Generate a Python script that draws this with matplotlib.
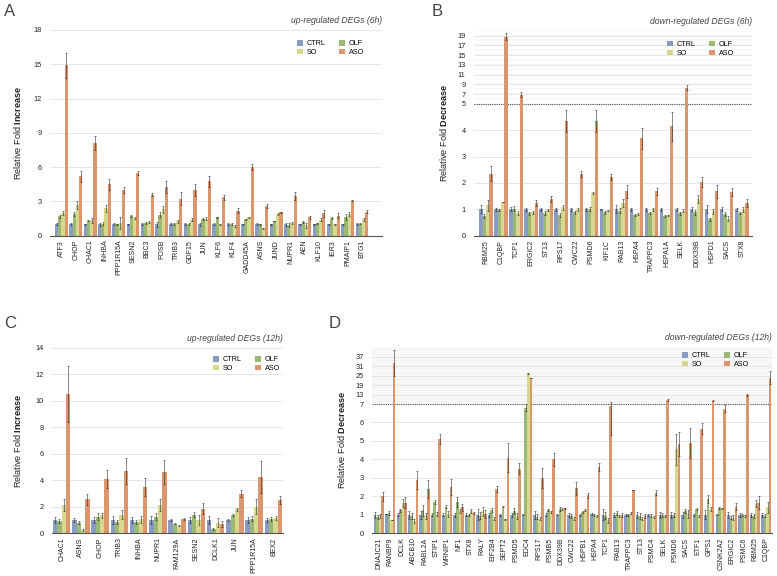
import numpy as np
import matplotlib
matplotlib.use("Agg")
import matplotlib.pyplot as plt

plt.rcParams['font.family'] = ['Liberation Sans', 'DejaVu Sans']
plt.rcParams['mathtext.fontset'] = 'custom'
plt.rcParams['mathtext.rm'] = 'Liberation Sans'
plt.rcParams['mathtext.bf'] = 'Liberation Sans:bold'

# ---------------- data ----------------
series_names = ["CTRL", "OLF", "SO", "ASO"]
colors = ["#8A9CC0", "#9BB874", "#D8D78E", "#DC966D"]

# A: up-regulated DEGs (6h)
genes_a = ["ATF3", "CHOP", "CHAC1", "INHBA", "PPP1R15A", "SESN2", "BBC3", "FOSB", "TRIB3", "GDF15", "JUN",
           "KLF6", "KLF4", "GADD45A", "ASNS", "JUND", "NUPR1", "AEN", "KLF10", "IER3", "PMAIP1", "BTG1"]
a_ctrl = [1.0, 1.0, 1.0, 1.0, 1.0, 1.0, 1.0, 1.0, 1.0, 1.0, 1.0, 1.0, 1.0, 1.0, 1.0, 1.0, 1.0, 1.0, 1.0, 1.0, 1.0, 1.0]
a_ctrl_err = [0.1, 0.1, 0.05, 0.12, 0.1, 0.05, 0.1, 0.2, 0.08, 0.1, 0.12, 0.08, 0.08, 0.05, 0.08, 0.05, 0.12, 0.05, 0.05, 0.05, 0.05, 0.1]
a_olf = [1.7, 1.9, 1.3, 1.05, 1.0, 1.7, 1.1, 1.85, 1.0, 1.05, 1.45, 1.6, 1.0, 1.45, 1.0, 1.3, 0.95, 1.2, 1.1, 1.55, 1.65, 1.05]
a_olf_err = [0.12, 0.15, 0.05, 0.12, 0.05, 0.08, 0.08, 0.2, 0.08, 0.08, 0.1, 0.08, 0.08, 0.05, 0.05, 0.03, 0.15, 0.08, 0.05, 0.05, 0.25, 0.05]
a_so = [2.0, 2.7, 1.35, 2.4, 1.1, 1.55, 1.2, 2.3, 1.25, 1.4, 1.5, 1.0, 0.85, 1.6, 0.65, 1.9, 1.1, 0.9, 1.4, 1.0, 1.9, 1.45]
a_so_err = [0.2, 0.35, 0.2, 0.3, 0.5, 0.08, 0.05, 0.3, 0.15, 0.15, 0.12, 0.05, 0.1, 0.05, 0.03, 0.08, 0.1, 0.2, 0.15, 0.05, 0.2, 0.12]
a_aso = [14.9, 5.2, 8.1, 4.5, 4.0, 5.5, 3.6, 4.25, 3.25, 4.0, 4.75, 3.35, 2.2, 6.0, 2.6, 2.05, 3.45, 1.6, 1.95, 1.75, 3.05, 2.1]
a_aso_err = [1.1, 0.5, 0.6, 0.5, 0.3, 0.2, 0.15, 0.5, 0.55, 0.5, 0.45, 0.2, 0.25, 0.25, 0.15, 0.03, 0.35, 0.15, 0.3, 0.2, 0.05, 0.15]

# B: down-regulated DEGs (6h)
genes_b = ["RBM25", "C1QBP", "TCP1", "ERGIC2", "ST13", "RPS17", "CWC22", "PSMD6", "KIF1C", "RAB13", "HSPA4",
           "TRAPPC3", "HSPA1A", "SELK", "DDX39B", "HSPD1", "SACS", "STX8"]
b_ctrl = [1.0, 1.0, 1.0, 1.0, 1.0, 1.0, 1.0, 1.0, 1.0, 1.0, 1.0, 1.0, 1.0, 1.0, 1.0, 1.0, 1.0, 1.0]
b_ctrl_err = [0.15, 0.05, 0.08, 0.05, 0.05, 0.05, 0.05, 0.05, 0.02, 0.15, 0.05, 0.05, 0.05, 0.05, 0.08, 0.15, 0.08, 0.05]
b_olf = [0.75, 0.97, 1.02, 0.85, 0.85, 0.78, 0.88, 1.02, 0.88, 0.95, 0.78, 0.85, 0.75, 0.85, 0.88, 0.62, 0.82, 0.85]
b_olf_err = [0.08, 0.05, 0.1, 0.05, 0.07, 0.07, 0.05, 0.07, 0.05, 0.1, 0.04, 0.04, 0.04, 0.05, 0.1, 0.05, 0.08, 0.03]
b_so = [1.15, 1.28, 0.87, 0.88, 0.97, 1.08, 1.0, 1.62, 0.95, 1.25, 0.82, 1.0, 0.78, 0.95, 1.4, 0.93, 0.65, 1.0]
b_so_err = [0.2, 0.01, 0.08, 0.05, 0.05, 0.1, 0.05, 0.05, 0.03, 0.15, 0.04, 0.05, 0.02, 0.05, 0.15, 0.1, 0.08, 0.1]
b_aso = [2.35, 18.8, 6.85, 1.25, 1.38, 4.35, 2.35, 4.35, 2.22, 1.68, 3.7, 1.68, 4.15, 8.3, 2.03, 1.68, 1.67, 1.25]
b_aso_err = [0.28, 0.7, 0.5, 0.12, 0.12, 0.4, 0.12, 0.4, 0.12, 0.25, 0.4, 0.12, 0.55, 0.5, 0.2, 0.25, 0.15, 0.15]

# C: up-regulated DEGs (12h)
genes_c = ["CHAC1", "ASNS", "CHOP", "TRIB3", "INHBA", "NUPR1", "FAM129A", "SESN2", "DCLK1", "JUN", "PPP1R15A", "BEX2"]
c_ctrl = [1.0, 1.0, 1.0, 1.0, 1.0, 1.0, 1.0, 1.0, 1.0, 1.0, 1.0, 1.0]
c_ctrl_err = [0.25, 0.15, 0.2, 0.3, 0.2, 0.3, 0.1, 0.2, 0.3, 0.05, 0.25, 0.15]
c_olf = [0.9, 0.8, 1.25, 0.85, 0.85, 1.25, 0.72, 1.4, 0.35, 1.4, 1.1, 1.1]
c_olf_err = [0.15, 0.1, 0.25, 0.15, 0.15, 0.25, 0.05, 0.2, 0.08, 0.08, 0.2, 0.15]
c_so = [2.15, 0.25, 1.35, 1.4, 1.05, 2.15, 0.58, 1.0, 0.8, 1.8, 2.0, 1.15]
c_so_err = [0.45, 0.05, 0.2, 0.35, 0.25, 0.45, 0.03, 0.4, 0.35, 0.12, 0.55, 0.15]
c_aso = [10.5, 2.55, 4.1, 4.7, 3.5, 4.65, 1.1, 1.85, 0.7, 3.0, 4.25, 2.5]
c_aso_err = [2.1, 0.4, 0.65, 1.0, 0.65, 0.9, 0.08, 0.4, 0.25, 0.25, 1.2, 0.3]

# D: down-regulated DEGs (12h)
genes_d = ["DNAJC21", "RANBP9", "DCLK", "ABCB10", "RABL2A", "STIP1", "WRNIP1", "NF1", "STX8", "RALY", "EIF2B4",
           "SEPT2", "PSMD5", "EDC4", "RPS17", "PSMB5", "DDX39B", "CWC22", "HSPB1", "HSPA4", "TCP1", "RAB13",
           "TRAPPC3", "ST13", "PSMC4", "SELK", "PSMD6", "SACS", "ETF1", "GPS1", "CSNK2A2", "ERGIC2", "PSMC6",
           "RBM25", "C1QBP"]
d_ctrl = [1.0, 1.05, 1.0, 1.0, 1.0, 1.0, 1.0, 1.0, 1.0, 1.0, 1.0, 1.0, 1.0, 1.0, 1.0, 1.0, 1.0, 1.0, 1.0, 1.05,
          1.0, 1.0, 1.0, 1.0, 1.0, 1.0, 1.0, 1.0, 1.0, 1.0, 1.0, 1.0, 1.0, 1.0, 1.0]
d_ctrl_err = [0.15, 0.02, 0.08, 0.2, 0.2, 0.08, 0.08, 0.1, 0.08, 0.3, 0.1, 0.05, 0.1, 0.03, 0.2, 0.08, 0.02, 0.1,
              0.05, 0.05, 0.3, 0.1, 0.05, 0.15, 0.05, 0.15, 0.15, 0.15, 0.05, 0.25, 0.03, 0.15, 0.1, 0.1, 0.1]
d_olf = [0.9, 1.1, 1.25, 0.95, 1.25, 1.7, 1.45, 1.7, 1.0, 0.95, 1.25, 1.45, 1.2, 6.8, 0.9, 1.25, 1.3, 0.95, 1.15,
         1.0, 0.95, 1.1, 1.0, 0.95, 0.95, 1.0, 1.0, 1.2, 1.3, 1.85, 1.35, 0.85, 1.0, 0.95, 0.95]
d_olf_err = [0.1, 0.1, 0.08, 0.15, 0.3, 0.1, 0.1, 0.25, 0.05, 0.2, 0.1, 0.05, 0.15, 0.2, 0.15, 0.05, 0.1, 0.1, 0.05,
             0.05, 0.2, 0.1, 0.05, 0.15, 0.08, 0.1, 0.1, 0.1, 0.05, 0.2, 0.05, 0.1, 0.05, 0.1, 0.08]
d_so = [0.95, 0.72, 1.65, 0.65, 0.95, 1.05, 1.05, 1.2, 1.2, 1.2, 0.8, 0.75, 0.95, 26.5, 0.8, 1.15, 1.3, 0.8, 1.25,
        0.95, 0.7, 0.95, 1.1, 0.8, 0.9, 0.95, 4.55, 1.05, 0.95, 1.3, 1.35, 0.85, 0.95, 1.6, 1.4]
d_so_err = [0.1, 0.02, 0.2, 0.1, 0.15, 0.1, 0.15, 0.1, 0.1, 0.25, 0.08, 0.02, 0.15, 0.3, 0.1, 0.05, 0.05, 0.08, 0.05,
            0.05, 0.15, 0.05, 0.03, 0.1, 0.05, 0.05, 0.85, 0.2, 0.05, 0.1, 0.03, 0.15, 0.05, 0.2, 0.3]
d_aso = [2.0, 33.0, 1.65, 2.9, 2.4, 5.1, 2.5, 1.4, 1.1, 1.05, 2.4, 4.1, 3.5, 23.5, 3.0, 4.0, 1.35, 2.45, 2.05, 3.6,
         6.9, 1.0, 2.35, 0.95, 2.2, 9.5, 4.85, 4.9, 5.65, 9.2, 6.75, 1.45, 12.7, 1.65, 23.7]
d_aso_err = [0.25, 8.0, 0.3, 0.5, 0.5, 0.25, 0.45, 0.2, 0.03, 0.2, 0.15, 0.8, 0.3, 0.3, 0.55, 0.35, 0.03, 0.35, 0.15,
             0.2, 1.6, 0.1, 0.02, 0.1, 0.12, 0.5, 0.65, 0.8, 0.3, 0.6, 0.2, 0.2, 0.8, 0.35, 4.0]


def broken_scale(brk, ratio):
    # linear up to brk, compressed above it
    def fwd(v):
        v = np.asarray(v, dtype=float)
        return np.where(v <= brk, v, brk + (v - brk) * ratio)

    def inv(t):
        t = np.asarray(t, dtype=float)
        return np.where(t <= brk, t, brk + (t - brk) / ratio)
    return fwd, inv


def draw_panel(ax, genes, vals, errs, xlim, ylim, yticks, word, title, legend_anchor,
               brk=None, ratio=None, label_x=-0.08):
    x = np.arange(len(genes))
    w = 0.225
    if brk is not None:
        ax.set_yscale("function", functions=broken_scale(brk, ratio))
    bars = []
    for i in range(4):
        pos = x + (i - 1.5) * w
        b = ax.bar(pos, vals[i], w, color=colors[i], zorder=2, label=series_names[i])
        ax.errorbar(pos, vals[i], yerr=errs[i], fmt="none", ecolor=(0.1, 0.1, 0.1, 0.6),
                    elinewidth=0.6, capsize=1.0, capthick=0.6, zorder=3)
        bars.append(b)
    ax.set_xlim(*xlim)
    ax.set_ylim(*ylim)
    ax.set_yticks(yticks)
    ax.set_yticklabels([str(t) for t in yticks], fontsize=5.3, color="#222")
    ax.set_xticks(x)
    ax.set_xticklabels(genes, rotation=90, fontsize=5.0, color="#222")
    ax.tick_params(axis="both", length=0, pad=3)
    ax.tick_params(axis="y", pad=6)
    ax.yaxis.grid(True, color="#e3e3e3", lw=0.6, zorder=0)
    ax.set_axisbelow(True)
    for s in ["top", "right", "left"]:
        ax.spines[s].set_visible(False)
    ax.spines["bottom"].set_color("#555")
    ax.spines["bottom"].set_linewidth(0.8)
    if brk is not None:
        for v in range(brk + 1, int(ylim[1]) + 1):
            ax.axhline(v, color="#e6e6e6", lw=0.35, zorder=0)
        ax.axhline(brk, color="#555", lw=0.8, ls=(0, (1, 1)), zorder=1)
    ax.set_ylabel(r"Relative Fold $\mathbf{" + word + "}$", fontsize=6.6, color="#222")
    ax.yaxis.set_label_coords(label_x, 0.5)
    ax.set_title(title, loc="right", fontstyle="italic", fontsize=6.2, color="#444", pad=5)
    order = [0, 2, 1, 3]
    ax.legend([bars[k] for k in order], [series_names[k] for k in order], ncol=2, frameon=False,
              fontsize=5.2, handlelength=0.8, handleheight=0.8, handletextpad=0.6,
              columnspacing=1.8, labelspacing=0.2, loc="upper right",
              bbox_to_anchor=legend_anchor, borderaxespad=0)


fig = plt.figure(figsize=(7.77, 5.76), dpi=100)
W, H = 777.0, 576.0

ax_a = fig.add_axes([50 / W, 1 - 235.7 / H, 332 / W, 205.7 / H])
draw_panel(ax_a, genes_a, [a_ctrl, a_olf, a_so, a_aso], [a_ctrl_err, a_olf_err, a_so_err, a_aso_err],
           (-0.8, 22.4), (0, 18), [0, 3, 6, 9, 12, 15, 18], "Increase", "up-regulated DEGs (6h)",
           (0.955, 0.965), label_x=-0.082)

ax_b = fig.add_axes([474 / W, 1 - 235.7 / H, 278 / W, 205 / H])
draw_panel(ax_b, genes_b, [b_ctrl, b_olf, b_so, b_aso], [b_ctrl_err, b_olf_err, b_so_err, b_aso_err],
           (-0.8, 17.68), (0, 20), [0, 1, 2, 3, 4, 5, 7, 9, 11, 13, 15, 17, 19], "Decrease",
           "down-regulated DEGs (6h)", (0.946, 0.964), brk=5, ratio=0.185, label_x=-0.09)

ax_c = fig.add_axes([52 / W, 1 - 533.3 / H, 231 / W, 185.6 / H])
draw_panel(ax_c, genes_c, [c_ctrl, c_olf, c_so, c_aso], [c_ctrl_err, c_olf_err, c_so_err, c_aso_err],
           (-0.5, 11.5), (0, 14), [0, 2, 4, 6, 8, 10, 12, 14], "Increase", "up-regulated DEGs (12h)",
           (1.0, 0.97), label_x=-0.125)

ax_d = fig.add_axes([372 / W, 1 - 533.3 / H, 400 / W, 186 / H])
draw_panel(ax_d, genes_d, [d_ctrl, d_olf, d_so, d_aso], [d_ctrl_err, d_olf_err, d_so_err, d_aso_err],
           (-0.6, 34.5), (0, 43), [0, 1, 2, 3, 4, 5, 6, 7, 13, 19, 25, 31, 37], "Decrease",
           "down-regulated DEGs (12h)", (0.95, 0.99), brk=7, ratio=0.0853, label_x=-0.0625)

for lbl, px, py in [("A", 10, 12), ("B", 437, 12), ("C", 10, 324), ("D", 335, 324)]:
    fig.text(px / W, 1 - py / H, lbl, fontsize=12, color="#444", ha="center", va="center")

fig.savefig("out.png", dpi=100)
